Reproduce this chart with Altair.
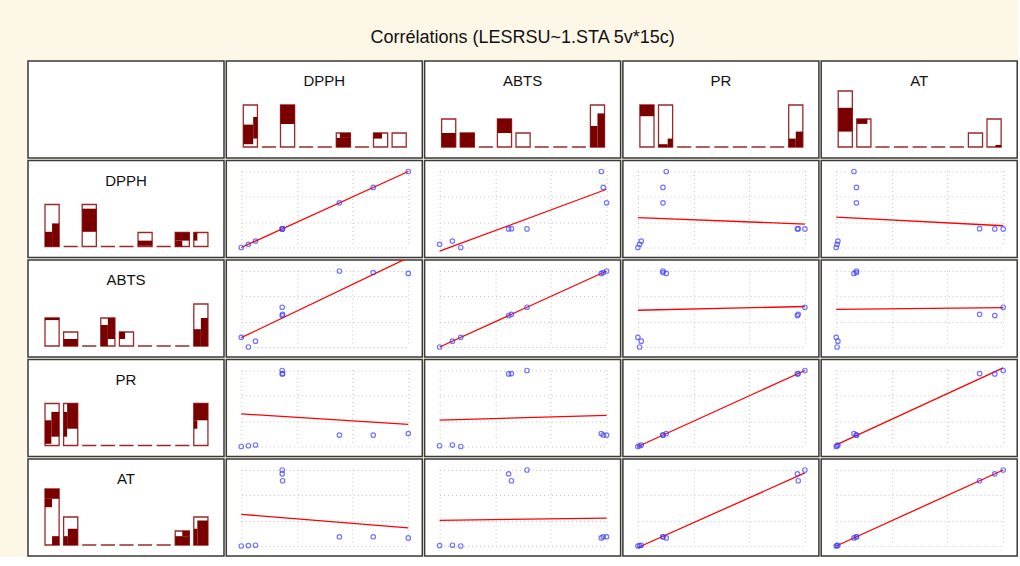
import altair as alt
import numpy as np
import pandas as pd

# ---- data: nine valid cases of four antioxidant measures ----
variables = ["DPPH", "ABTS", "PR", "AT"]

dpph = [10.0, 11.7, 13.4, 19.8, 19.9, 19.8, 33.5, 41.6, 50.0]
abts = [27.6, 20.0, 24.6, 44.8, 45.8, 51.4, 80.0, 78.8, 78.1]
pr = [2.0, 2.4, 2.8, 40.2, 40.4, 42.0, 8.0, 8.0, 8.8]
at = [5.0, 5.15, 5.3, 33.2, 30.5, 34.7, 8.6, 8.6, 8.15]

data = {"DPPH": dpph, "ABTS": abts, "PR": pr, "AT": at}

# highlighted (brushed) parts of the histogram bars:
# (bin, left fraction, right fraction, count from, count to)
top_fill = {
    "DPPH": [(0, 0, 0.7, 0.2, 1.6), (0, 0.7, 1, 0.6, 2.15), (2, 0, 1, 1.65, 3),
             (5, 0, 1, 0, 0.65), (5, 0.25, 1, 0.65, 1), (7, 0, 0.6, 0.6, 1)],
    "ABTS": [(0, 0, 1, 0, 1), (1, 0, 1, 0, 1), (3, 0, 1, 1, 2),
             (8, 0, 0.5, 0, 1.5), (8, 0.5, 1, 0, 2.4)],
    "PR": [(0, 0, 1, 2.2, 3), (1, 0, 0.65, 0, 0.2), (1, 0.65, 1, 0, 0.6),
           (8, 0, 0.5, 0, 0.6), (8, 0.5, 1, 0, 1.1)],
    "AT": [(0, 0, 1, 1.1, 2.8), (1, 0, 0.75, 1.65, 2), (8, 0.6, 1, 0, 0.15)],
}
side_fill = {
    "DPPH": [(0, 0, 0.5, 0, 1.05), (0, 0.5, 1, 0, 1.65), (2, 0, 1, 1.05, 2.7),
             (5, 0, 1, 0.05, 0.42), (7, 0, 1, 0.42, 1), (7, 0, 0.5, 0, 0.42),
             (8, 0, 0.25, 0.42, 1)],
    "ABTS": [(0, 0, 1, 1.85, 2), (1, 0, 1, 0, 0.5), (3, 0, 0.5, 0, 1.5),
             (3, 0.5, 1, 0.5, 2), (4, 0, 0.4, 0.5, 1), (8, 0, 0.5, 0, 1.2),
             (8, 0.5, 1, 0, 2)],
    "PR": [(0, 0, 0.45, 0.12, 1.8), (0, 0.45, 1, 0.63, 2.4), (1, 0, 0.25, 0.63, 2.4),
           (1, 0.25, 1, 1.2, 3), (8, 0, 1, 1.8, 3), (8, 0, 0.25, 1.2, 1.8)],
    "AT": [(0, 0, 1, 3.3, 4), (0, 0, 0.5, 2.7, 3.3), (0, 0.5, 1, 0, 0.63),
           (1, 0, 0.3, 0, 0.63), (1, 0.3, 1, 0, 1.16), (7, 0, 1, 0, 0.63),
           (7, 0.5, 1, 0.63, 1), (8, 0, 0.25, 0, 1.16), (8, 0.25, 1, 0, 1.75)],
}

# ---- styling ----
FONT = "Liberation Sans"
PW, PH = 196, 97
N_BINS = 9
BIN_W = 0.76
OUTLINE = "#9a2a2a"
FILL = "#7a0000"
POINT = "#3b3bff"
LINE = "#ff0000"


def empty_panel():
    return alt.Chart(pd.DataFrame({"t": [""]})).mark_text().encode(
        text="t:N", x=alt.value(0), y=alt.value(0)
    ).properties(width=PW, height=PH)


def hist_panel(var, fills):
    vals = np.asarray(data[var], dtype=float)
    counts, _ = np.histogram(vals, bins=N_BINS, range=(vals.min(), vals.max()))
    bins = np.arange(N_BINS)
    bars = pd.DataFrame({"b": bins, "b2": bins + BIN_W, "n": counts, "zero": 0})
    xs = alt.Scale(domain=[0, N_BINS], range=[17, 17 + N_BINS * 18.6], nice=False)
    ys = alt.Scale(domain=[0, 6], range=[86, 2], nice=False)

    base = alt.Chart(bars)
    outline = base.transform_filter("datum.n > 0").mark_rect(
        fill="white", stroke=OUTLINE, strokeWidth=1.3
    ).encode(
        x=alt.X("b:Q", scale=xs, axis=None), x2="b2",
        y=alt.Y("zero:Q", scale=ys, axis=None), y2="n",
    )
    dashes = base.transform_filter("datum.n == 0").mark_rule(
        color=OUTLINE, strokeWidth=1.5
    ).encode(
        x=alt.X("b:Q", scale=xs, axis=None), x2="b2",
        y=alt.Y("zero:Q", scale=ys, axis=None),
    )
    fd = pd.DataFrame(fills, columns=["bin", "f0", "f1", "c0", "c1"])
    fd["x0"] = fd["bin"] + fd["f0"] * BIN_W
    fd["x1"] = fd["bin"] + fd["f1"] * BIN_W
    brushed = alt.Chart(fd).mark_rect(color=FILL).encode(
        x=alt.X("x0:Q", scale=xs, axis=None), x2="x1",
        y=alt.Y("c0:Q", scale=ys, axis=None), y2="c1",
    )
    label = alt.Chart(pd.DataFrame({"t": [var]})).mark_text(
        fontSize=15, font=FONT, color="#111111"
    ).encode(text="t:N", x=alt.value(PW / 2), y=alt.value(20))
    return alt.layer(outline, dashes, brushed, label).properties(width=PW, height=PH)


def scatter_panel(xv, yv):
    xd = np.asarray(data[xv], dtype=float)
    yd = np.asarray(data[yv], dtype=float)
    df = pd.DataFrame({"x": xd, "y": yd})
    xs = alt.Scale(domain=[float(xd.min()), float(xd.max())], range=[15, 182], nice=False, zero=False)
    ys = alt.Scale(domain=[float(yd.min()), float(yd.max())], range=[87, 11], nice=False, zero=False)
    grid = dict(grid=True, labels=False, ticks=False, domain=False, title=None,
                gridDash=[1, 3], gridColor="#c4c4c4", gridWidth=1,
                minExtent=0, maxExtent=0, offset=0)
    xa = alt.Axis(values=[float(v) for v in np.linspace(xd.min(), xd.max(), 4)], **grid)
    ya = alt.Axis(values=[float(v) for v in np.linspace(yd.min(), yd.max(), 4)], **grid)
    base = alt.Chart(df)
    fit = base.transform_regression("x", "y").mark_line(
        color=LINE, strokeWidth=1.3, clip=True
    ).encode(x=alt.X("x:Q", scale=xs, axis=xa), y=alt.Y("y:Q", scale=ys, axis=ya))
    pts = base.mark_point(
        shape="circle", filled=False, color=POINT, size=20, strokeWidth=1.2
    ).encode(x=alt.X("x:Q", scale=xs, axis=xa), y=alt.Y("y:Q", scale=ys, axis=ya))
    return alt.layer(fit, pts).properties(width=PW, height=PH)


rows = [alt.hconcat(empty_panel(), *[hist_panel(v, top_fill[v]) for v in variables], spacing=0.3)]
for rv in variables:
    rows.append(alt.hconcat(hist_panel(rv, side_fill[rv]),
                            *[scatter_panel(cv, rv) for cv in variables], spacing=0.3))

chart = alt.vconcat(*rows, spacing=0.5).properties(
    title=alt.TitleParams(
        "Corrélations (LESRSU~1.STA 5v*15c)", fontSize=18, font=FONT,
        fontWeight="normal", color="#111111", anchor="middle", offset=7,
    ),
    background="#fdf7e7",
    padding={"left": 27, "top": 29, "right": 0, "bottom": 0},
).configure(
    font=FONT
).configure_view(
    stroke="#3a3a3a", strokeWidth=1.5, fill="white"
)

chart.save("out.html", embed_options={"renderer": "svg", "actions": False})
